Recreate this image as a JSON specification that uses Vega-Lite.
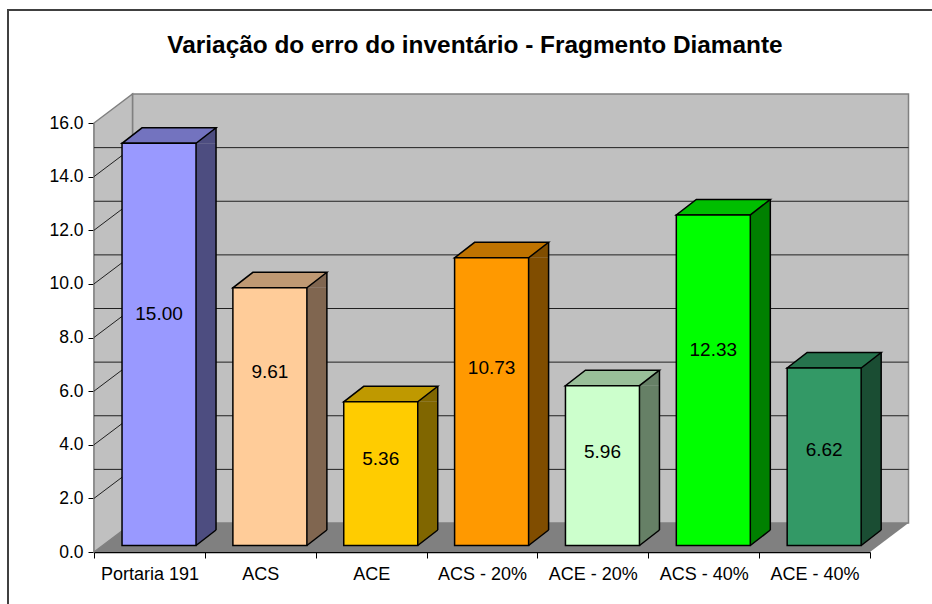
{
"$schema":"https://vega.github.io/schema/vega-lite/v6.json",
"width":776,"height":429,
"autosize":{"type":"none"},
"padding":{"left":94,"top":123,"right":62,"bottom":52},
"background":"white",
"title":{"text":"Variação do erro do inventário - Fragmento Diamante","anchor":"middle","font":"Liberation Sans","fontSize":24.4,"fontWeight":"bold","color":"black","offset":-52,"dx":-7},
"datasets":{
"bars":[
{"metodo":"Portaria 191","erro":15.00,"rotulo_em":8.88},
{"metodo":"ACS","erro":9.61,"rotulo_em":6.72},
{"metodo":"ACE","erro":5.36,"rotulo_em":3.47},
{"metodo":"ACS - 20%","erro":10.73,"rotulo_em":6.87},
{"metodo":"ACE - 20%","erro":5.96,"rotulo_em":3.73},
{"metodo":"ACS - 40%","erro":12.33,"rotulo_em":7.52},
{"metodo":"ACE - 40%","erro":6.62,"rotulo_em":3.81}
],
"grade":[{"v":2},{"v":4},{"v":6},{"v":8},{"v":10},{"v":12},{"v":14}],
"um":[{"id":1}]
},
"data":{"name":"bars"},
"layer":[
{"data":{"name":"um"},"mark":{"type":"point","shape":"M -1 -0.5528 L 1 -0.5528 L 1 0.5528 L -1 0.5528 Z","size":602176,"filled":true,"fill":"#c0c0c0","stroke":"#808080","strokeWidth":1.5,"opacity":1,"xOffset":38.5,"yOffset":-29},"encoding":{}},
{"data":{"name":"um"},"mark":{"type":"point","shape":"M 0 1 L 0.1795 0.8648 L 0.1795 -1.1352 L 0 -1 Z","size":184041,"filled":true,"fill":"#c0c0c0","stroke":"#808080","strokeWidth":1.5,"opacity":1,"xOffset":-388},"encoding":{}},
{"data":{"name":"grade"},"mark":{"type":"rule","color":"#202020","strokeWidth":1,"xOffset":38.5,"yOffset":-29},"encoding":{"y":{"field":"v","type":"quantitative","title":null}}},
{"data":{"name":"grade"},"mark":{"type":"point","shape":"M -1 0.753 L 1 -0.753","size":1482,"filled":false,"stroke":"#202020","strokeWidth":1,"opacity":1,"xOffset":-368.75,"yOffset":-14.5},"encoding":{"y":{"field":"v","type":"quantitative","title":null}}},
{"data":{"name":"um"},"mark":{"type":"point","shape":"M -1 0 L 1 0 L 1.0992 -0.0747 L -0.9008 -0.0747 Z","size":602176,"filled":true,"fill":"#808080","strokeWidth":0,"opacity":1},"encoding":{"y":{"datum":0,"type":"quantitative","title":null}}},
{"mark":{"type":"bar","width":20,"xOffset":56.6,"yOffset":-6.5,"y2Offset":-22},"encoding":{
"x":{"field":"metodo","type":"nominal","sort":null,"title":null},
"y":{"field":"erro","type":"quantitative","title":null},
"y2":{"datum":0},
"color":{"field":"metodo","type":"nominal","legend":null,"sort":null,"scale":{"domain":["Portaria 191","ACS","ACE","ACS - 20%","ACE - 20%","ACS - 40%","ACE - 40%"],"range":["#4d4d80","#806650","#806600","#804d00","#668066","#008000","#1a4d33"]}}}},
{"mark":{"type":"point","shape":"M 1 0 L 1.5405 -0.4189 L 1.5405 0 Z","size":5476,"filled":true,"opacity":1,"strokeWidth":0,"xOffset":9.6,"yOffset":-6.5},"encoding":{
"x":{"field":"metodo","type":"nominal","sort":null,"title":null},
"y":{"field":"erro","type":"quantitative","title":null},
"color":{"field":"metodo","type":"nominal","legend":null,"sort":null,"scale":{"domain":["Portaria 191","ACS","ACE","ACS - 20%","ACE - 20%","ACS - 40%","ACE - 40%"],"range":["#4d4d80","#806650","#806600","#804d00","#668066","#008000","#1a4d33"]}}}},
{"mark":{"type":"point","shape":"M 1 0 L 1.5405 -0.4189 L 1 -0.4189 Z","size":5476,"filled":true,"opacity":1,"strokeWidth":0,"xOffset":9.6,"yOffset":-6.5},"encoding":{
"x":{"field":"metodo","type":"nominal","sort":null,"title":null},
"y":{"datum":0,"type":"quantitative","title":null},
"color":{"field":"metodo","type":"nominal","legend":null,"sort":null,"scale":{"domain":["Portaria 191","ACS","ACE","ACS - 20%","ACE - 20%","ACS - 40%","ACE - 40%"],"range":["#4d4d80","#806650","#806600","#804d00","#668066","#008000","#1a4d33"]}}}},
{"mark":{"type":"point","shape":"M 1 0 L 1.5405 -0.4189 L 1.5405 -0.4189","size":5476,"filled":false,"opacity":1,"stroke":"black","strokeWidth":1.5,"xOffset":9.6,"yOffset":-6.5},"encoding":{
"x":{"field":"metodo","type":"nominal","sort":null,"title":null},
"y":{"datum":0,"type":"quantitative","title":null}}},
{"mark":{"type":"rule","color":"black","strokeWidth":1.5,"xOffset":66.6,"yOffset":-22,"y2Offset":-22},"encoding":{
"x":{"field":"metodo","type":"nominal","sort":null,"title":null},
"y":{"field":"erro","type":"quantitative","title":null},
"y2":{"datum":0}}},
{"mark":{"type":"point","shape":"M -1 0 L 1 0 L 1.5405 -0.4189 L -0.4595 -0.4189 Z","size":5476,"filled":true,"opacity":1,"stroke":"black","strokeWidth":1.5,"xOffset":9.6,"yOffset":-6.5},"encoding":{
"x":{"field":"metodo","type":"nominal","sort":null,"title":null},
"y":{"field":"erro","type":"quantitative","title":null},
"color":{"field":"metodo","type":"nominal","legend":null,"sort":null,"scale":{"domain":["Portaria 191","ACS","ACE","ACS - 20%","ACE - 20%","ACS - 40%","ACE - 40%"],"range":["#7373bf","#bf9973","#bf9900","#bf7300","#99bf99","#00bf00","#26734d"]}}}},
{"mark":{"type":"bar","width":74,"xOffset":9.6,"yOffset":-6.5,"y2Offset":-6.5,"stroke":"black","strokeWidth":1.5},"encoding":{
"x":{"field":"metodo","type":"nominal","sort":null,"title":null},
"y":{"field":"erro","type":"quantitative","title":null},
"y2":{"datum":0},
"color":{"field":"metodo","type":"nominal","legend":null,"sort":null,"scale":{"domain":["Portaria 191","ACS","ACE","ACS - 20%","ACE - 20%","ACS - 40%","ACE - 40%"],"range":["#9999ff","#ffcc99","#ffcc00","#ff9900","#ccffcc","#00ff00","#339966"]}}}},
{"mark":{"type":"text","font":"Liberation Sans","fontSize":19,"color":"black","xOffset":9.6,"baseline":"middle","align":"center"},"encoding":{
"x":{"field":"metodo","type":"nominal","sort":null,"title":null},
"y":{"field":"rotulo_em","type":"quantitative","title":null},
"text":{"field":"erro","type":"quantitative","format":".2f"}}},
{"data":{"name":"um"},"mark":{"type":"point","shape":"M -1 1 L -1 -1 L 1 -1","size":898704,"filled":false,"stroke":"#404040","strokeWidth":2,"opacity":1,"yOffset":146.5},"encoding":{}}
],
"resolve":{"scale":{"color":"independent"}},
"config":{
"view":{"stroke":null},
"scale":{"bandPaddingInner":0,"bandPaddingOuter":0},
"axis":{"grid":false,"domainColor":"black","tickColor":"black","domainWidth":1.5,"tickWidth":1,"labelFont":"Liberation Sans","labelColor":"black","zindex":1,"tickSize":6},
"axisX":{"labelAngle":0,"tickBand":"extent","labelPadding":7,"labelFontSize":18},
"axisY":{"format":".1f","tickCount":8,"labelPadding":5,"labelFontSize":17.5}
}
}
